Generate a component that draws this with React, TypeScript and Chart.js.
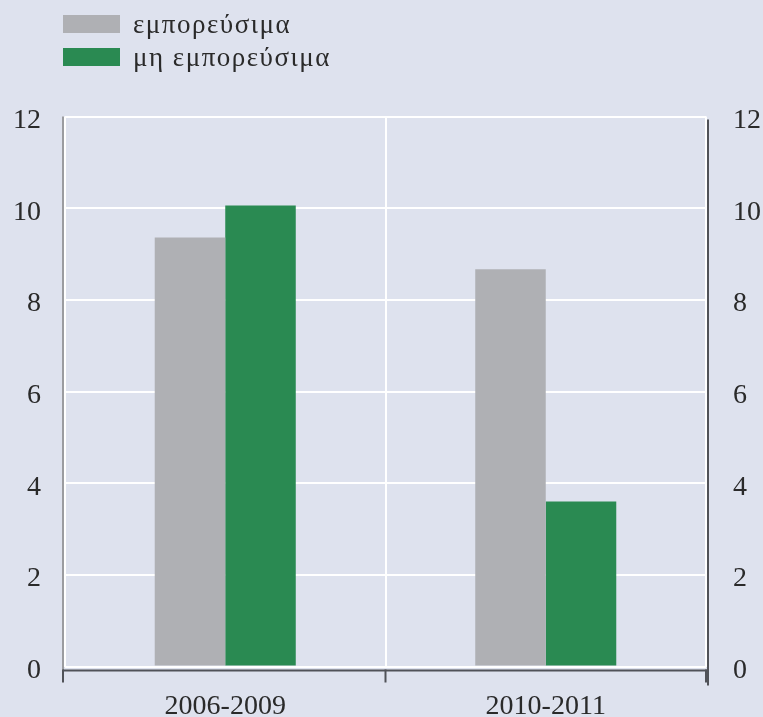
import React, { useEffect, useRef } from "react";
import { Chart, registerables } from "chart.js";

Chart.register(...registerables);

const categories = ["2006-2009", "2010-2011"];
const tradableLabel = "εμπορεύσιμα";
const nonTradableLabel = "μη εμπορεύσιμα";
const tradableValues = [9.36, 8.67];
const nonTradableValues = [10.06, 3.6];
const yTicks = [0, 2, 4, 6, 8, 10, 12];

const BG = "#dee2ee";
const GREY = "#afb0b4";
const GREEN = "#2a8a52";
const TEXT = "#2a2a2a";
const FONT = "'Liberation Serif', 'Times New Roman', serif";

const W = 763;
const H = 717;

const axisDecor = {
  id: "axisDecor",
  afterDraw(chart: any) {
    const { ctx, chartArea } = chart;
    const { left, right, top, bottom } = chartArea;
    const mid = chart.scales.x.getPixelForValue(0.5);
    ctx.save();
    ctx.strokeStyle = "#9b9ca0";
    ctx.lineWidth = 2;
    ctx.beginPath();
    ctx.moveTo(left - 2, top);
    ctx.lineTo(left - 2, bottom + 4);
    ctx.stroke();
    ctx.strokeStyle = "#505258";
    ctx.lineWidth = 2;
    ctx.beginPath();
    ctx.moveTo(left - 2, bottom + 4);
    ctx.lineTo(right + 1, bottom + 4);
    ctx.stroke();
    [left - 2, mid, right].forEach((x) => {
      ctx.beginPath();
      ctx.moveTo(x, bottom + 3);
      ctx.lineTo(x, bottom + 16);
      ctx.stroke();
    });
    ctx.beginPath();
    ctx.moveTo(right + 2, top + 3);
    ctx.lineTo(right + 2, bottom + 19);
    ctx.stroke();
    ctx.restore();
  },
};

export default function App() {
  const ref = useRef<HTMLCanvasElement | null>(null);

  useEffect(() => {
    document.body.style.background = BG;
    document.body.style.margin = "0";
    const canvas = ref.current;
    if (!canvas) return;
    const tickFont = { family: FONT, size: 28 };
    const chart = new Chart(canvas, {
      type: "bar",
      data: {
        labels: categories,
        datasets: [
          {
            label: tradableLabel,
            data: tradableValues,
            backgroundColor: GREY,
            borderWidth: 0,
            categoryPercentage: 0.44,
            barPercentage: 1,
          },
          {
            label: nonTradableLabel,
            data: nonTradableValues,
            backgroundColor: GREEN,
            borderWidth: 0,
            categoryPercentage: 0.44,
            barPercentage: 1,
          },
        ],
      },
      options: {
        animation: false,
        responsive: false,
        maintainAspectRatio: false,
        layout: { padding: { top: 116.5, left: 0, right: 0, bottom: 0 } },
        plugins: {
          legend: { display: false },
          tooltip: { enabled: false },
        },
        scales: {
          x: {
            offset: true,
            grid: { offset: true, color: "#ffffff", lineWidth: 2, drawTicks: false },
            border: { display: false },
            ticks: { font: tickFont, color: TEXT, padding: 23 },
            afterFit: (s: any) => {
              s.height = 50.5;
            },
          },
          y: {
            position: "left",
            min: 0,
            max: 12,
            afterBuildTicks: (s: any) => {
              s.ticks = yTicks.map((v) => ({ value: v }));
            },
            grid: { color: "#ffffff", lineWidth: 2, drawTicks: false },
            border: { display: false },
            ticks: { font: tickFont, color: TEXT, padding: 24, labelOffset: 4 },
            afterFit: (s: any) => {
              s.width = 65;
            },
          },
          y2: {
            position: "right",
            min: 0,
            max: 12,
            afterBuildTicks: (s: any) => {
              s.ticks = yTicks.map((v) => ({ value: v }));
            },
            grid: { display: false, drawTicks: false },
            border: { display: false },
            ticks: { font: tickFont, color: TEXT, padding: 27, labelOffset: 4 },
            afterFit: (s: any) => {
              s.width = 57;
            },
          },
        },
      },
      plugins: [axisDecor],
    });
    return () => chart.destroy();
  }, []);

  const legendRow = (top: number, color: string, text: string) => (
    <div
      style={{
        position: "absolute",
        left: 63,
        top,
        height: 18,
        display: "flex",
        alignItems: "center",
        whiteSpace: "nowrap",
      }}
    >
      <span style={{ display: "inline-block", width: 57, height: 18, background: color }} />
      <span
        style={{
          marginLeft: 13,
          fontFamily: FONT,
          fontSize: 27,
          letterSpacing: "1.5px",
          lineHeight: "18px",
          color: TEXT,
        }}
      >
        {text}
      </span>
    </div>
  );

  return (
    <div style={{ position: "relative", width: W, height: H }}>
      <canvas ref={ref} width={W} height={H} style={{ display: "block" }} />
      {legendRow(15, GREY, tradableLabel)}
      {legendRow(48, GREEN, nonTradableLabel)}
    </div>
  );
}
